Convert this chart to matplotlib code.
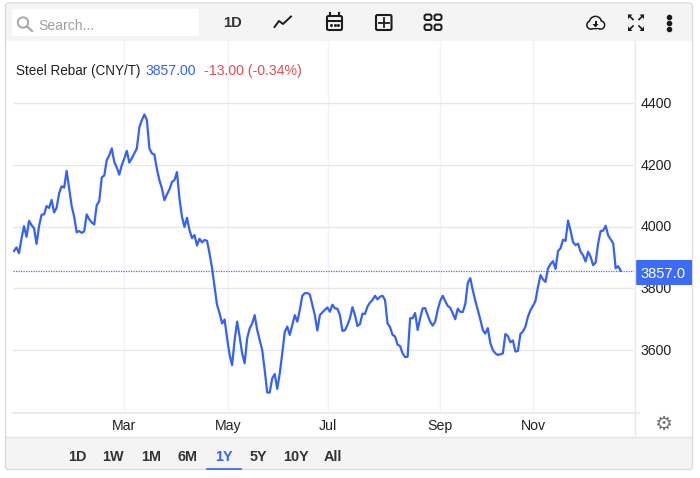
import matplotlib
matplotlib.use("Agg")
import matplotlib.pyplot as plt
from matplotlib.patches import Rectangle, FancyBboxPatch, Circle, Polygon
from matplotlib.transforms import ScaledTranslation

plt.rcParams['font.family'] = ['Liberation Sans', 'DejaVu Sans']

TITLE = "Steel Rebar (CNY/T)"
LAST = "3857.00"
CHANGE = "-13.00 (-0.34%)"
PRICE_TAG = "3857.0"
last_price = 3857
prices = [
 3921,3933,3914,3962,4002,3967,4019,4005,3995,3944,4002,4039,4040,4067,4061,4087,4046,4062,4108,4131,
 4127,4181,4124,4067,4032,3982,3986,3980,3985,4040,4024,4014,4007,4070,4083,4160,4166,4216,4232,4254,
 4210,4192,4169,4200,4221,4246,4208,4222,4238,4254,4322,4346,4364,4346,4254,4238,4234,4187,4151,4124,
 4086,4105,4121,4145,4151,4177,4092,4032,3999,4029,3989,3963,3973,3939,3961,3949,3957,3954,3913,3865,
 3805,3746,3719,3686,3699,3638,3584,3551,3632,3692,3643,3589,3557,3638,3670,3686,3713,3665,3632,3600,
 3535,3462,3462,3508,3522,3474,3524,3589,3659,3676,3649,3681,3713,3692,3730,3776,3784,3785,3780,3746,
 3713,3663,3713,3722,3730,3738,3724,3747,3735,3734,3713,3662,3664,3681,3703,3739,3713,3678,3684,3718,
 3717,3741,3754,3762,3776,3764,3773,3776,3762,3686,3674,3649,3644,3617,3613,3589,3577,3578,3703,3703,
 3720,3665,3703,3735,3736,3713,3692,3679,3692,3730,3759,3776,3759,3743,3737,3719,3700,3734,3724,3723,
 3749,3818,3833,3794,3760,3730,3699,3665,3653,3671,3622,3600,3589,3584,3586,3589,3652,3645,3625,3631,
 3595,3597,3652,3660,3676,3708,3729,3743,3759,3805,3843,3829,3821,3865,3879,3888,3863,3921,3930,3958,
 3954,4020,3987,3950,3940,3945,3919,3907,3887,3919,3902,3875,3884,3946,3986,3987,4003,3972,3959,3946,
 3865,3872,3857]
month_labels = ["Mar", "May", "Jul", "Sep", "Nov"]
month_sessions = [43.7, 85.4, 125.2, 169.9, 207]
y_ticks = [3600, 3800, 4000, 4200, 4400]
range_buttons = ["1D", "1W", "1M", "6M", "1Y", "5Y", "10Y", "All"]

W, H = 700, 478
BLUE = "#3563f0"
fig = plt.figure(figsize=(W/100, H/100), dpi=100, facecolor="white")

def rect(l, t, r, b):
    return [l/W, 1-b/H, (r-l)/W, (b-t)/H]

ax = fig.add_axes(rect(13, 41, 634, 412))
n = len(prices)
px_step = (620.7-14)/(n-1)
ax.set_xlim(-(14-13)/px_step, (634-14)/px_step)
ax.set_ylim(3600-(412-350)*200/61.65, 3600+(350-41)*200/61.65)
ax.plot(range(n), prices, color=BLUE, lw=1.6, solid_joinstyle="round", zorder=3)
ax.axhline(last_price, color="#3f73ff", lw=0.9, ls=(0, (1, 1)), zorder=2)
ax.set_yticks(y_ticks)
ax.set_xticks(month_sessions)
ax.set_xticklabels(month_labels)
ax.yaxis.tick_right()
ax.tick_params(axis="both", length=0, labelsize=10.2, labelcolor="#222222")
ax.tick_params(axis="y", pad=5)
ax.tick_params(axis="x", pad=5.2)
for lab in ax.get_yticklabels():
    lab.set_transform(lab.get_transform() + ScaledTranslation(0, 1/100, fig.dpi_scale_trans))
ax.grid(axis="y", color="#e8e8e8", lw=1)
ax.grid(axis="x", color="#f0f2f6", lw=1)
ax.set_axisbelow(True)
for s in ax.spines.values():
    s.set_visible(False)

ov = fig.add_axes([0, 0, 1, 1], zorder=5)
ov.set_xlim(0, W)
ov.set_ylim(H, 0)
ov.axis("off")
ov.patch.set_alpha(0)

# panel chrome
ov.add_patch(Rectangle((6, 4), 686, 37, fc="#f4f4f4", ec="none"))
ov.add_patch(Rectangle((6, 437), 686, 32, fc="#f4f4f4", ec="none"))
ov.add_patch(FancyBboxPatch((8, 5.5), 682, 461.5, boxstyle="round,pad=2.5,rounding_size=3",
                            fc="none", ec="#dcdcdc", lw=1))
ov.plot([6, 692], [437, 437], color="#e4e4e4", lw=1)
ov.plot([634.5, 634.5], [41, 437], color="#e8e8e8", lw=1)
ov.plot([13, 639], [412.5, 412.5], color="#e8e8e8", lw=1.2)

# search box
ov.add_patch(Rectangle((12, 9), 187, 27, fc="white", ec="none"))
ov.add_patch(Circle((23, 22.5), 5.2, fc="none", ec="#a8a8a8", lw=1.4))
ov.plot([27, 32], [26.5, 31], color="#a8a8a8", lw=1.6)
ov.text(38, 26, "Search...", fontsize=10.1, color="#a0a0a0", va="center")

# toolbar icons
DARK = "#1c1c1c"
ov.text(233, 23, "1D", fontsize=10.6, fontweight="bold", color="#333333", ha="center", va="center")
ov.plot([274.5, 279, 283, 291], [27, 21, 24, 16.5], color=DARK, lw=1.4)
ov.add_patch(FancyBboxPatch((327, 16), 15, 14, boxstyle="round,pad=0,rounding_size=1.5", fc="none", ec=DARK, lw=1.5))
ov.plot([327, 342], [20.5, 20.5], color=DARK, lw=1.5)
ov.plot([330, 330], [13, 16], color=DARK, lw=1.5)
ov.plot([339, 339], [13, 16], color=DARK, lw=1.5)
ov.plot([331, 334.5, 338], [25, 25, 25], ls="none", marker="s", ms=1, color=DARK)
ov.add_patch(FancyBboxPatch((376, 15), 15.5, 15, boxstyle="round,pad=0,rounding_size=1.5", fc="none", ec=DARK, lw=1.5))
ov.plot([379, 389], [22.5, 22.5], color=DARK, lw=1.3)
ov.plot([384, 384], [18, 27], color=DARK, lw=1.3)
for ix, iy in [(424.5, 14.5), (434.5, 14.5), (424.5, 24.5), (434.5, 24.5)]:
    ov.add_patch(FancyBboxPatch((ix, iy), 7, 5.5, boxstyle="round,pad=0,rounding_size=2", fc="none", ec=DARK, lw=1.4))
# cloud download
for cx, cy, rad in [(591, 25, 4), (595.5, 22.5, 6), (600.5, 25, 4)]:
    ov.add_patch(Circle((cx, cy), rad, fc="#f4f4f4", ec=DARK, lw=1.3, zorder=2))
for cx, cy, rad in [(591, 25, 3.3), (595.5, 22.5, 5.3), (600.5, 25, 3.3)]:
    ov.add_patch(Circle((cx, cy), rad, fc="#f4f4f4", ec="none", zorder=3))
ov.add_patch(Rectangle((589, 24), 13, 4.4, fc="#f4f4f4", ec="none", zorder=3))
ov.add_patch(Polygon([(592.5, 24), (598.5, 24), (595.5, 27.5)], fc=DARK, ec="none", zorder=4))
ov.add_patch(Rectangle((594.5, 21), 2, 3, fc=DARK, ec="none", zorder=4))
# expand arrows
for ax_, ay_, dx, dy in [(628, 14.5, 1, 1), (644, 14.5, -1, 1), (628, 31, 1, -1), (644, 31, -1, -1)]:
    ov.add_patch(Polygon([(ax_, ay_), (ax_+4.5*dx, ay_), (ax_, ay_+4.5*dy)], fc=DARK, ec="none"))
    ov.plot([ax_+1*dx, ax_+5*dx], [ay_+1*dy, ay_+5*dy], color=DARK, lw=1.2)
# menu dots
ov.plot([668.5]*3, [17, 23, 29], ls="none", marker="o", ms=3, color=DARK)

# header legend
ov.text(16, 71, TITLE, fontsize=9.75, color="#222222", va="center")
ov.text(146, 71, LAST, fontsize=10.1, color=BLUE, va="center")
ov.text(204, 71, CHANGE, fontsize=10.2, color="#e0504c", va="center")

# price tag
ov.add_patch(Rectangle((635, 260), 57, 25, fc="#3d6bf5", ec="none"))
ov.text(663.5, 273.5, PRICE_TAG, fontsize=10.6, color="white", ha="center", va="center")

# settings gear
ov.text(663.5, 424.5, "\u2699", fontsize=14.5, color="#777777", ha="center", va="center", family="DejaVu Sans")

# range selector
for label, xc in zip(range_buttons, [77, 113, 151, 188, 224, 258, 296, 333]):
    ov.text(xc, 457, label, fontsize=10.4, fontweight="bold", ha="center", va="center",
            color=BLUE if label == "1Y" else "#333333")
ov.plot([207, 241], [469, 469], color=BLUE, lw=1.2)

fig.savefig("out.png", dpi=100)
